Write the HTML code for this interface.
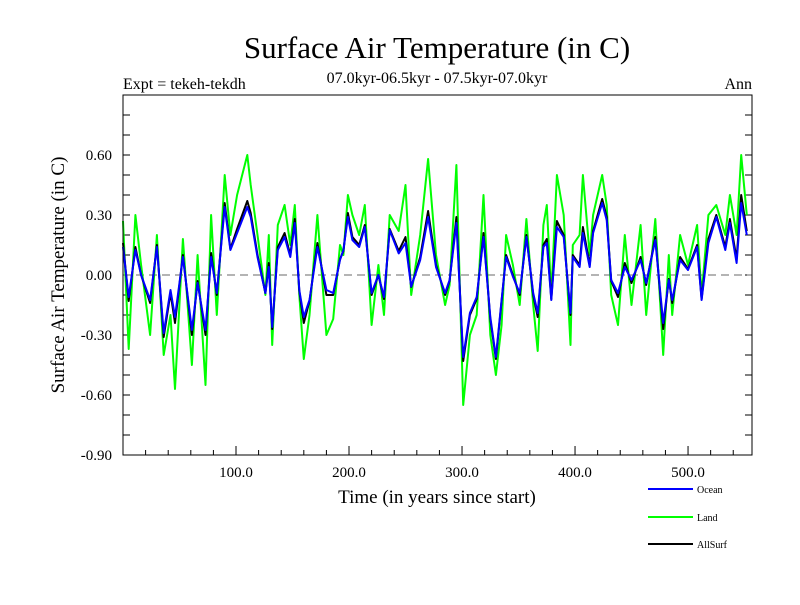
<!DOCTYPE html>
<html><head><meta charset="utf-8"><style>
body{margin:0;background:#fff;width:800px;height:600px;overflow:hidden}
svg text{font-family:"Liberation Serif",serif}
</style></head><body>
<svg width="800" height="600" id="c">
<text x="437" y="58" font-size="31" text-anchor="middle">Surface Air Temperature (in C)</text>
<text x="123" y="89" font-size="16">Expt = tekeh-tekdh</text>
<text x="437" y="83" font-size="16" text-anchor="middle">07.0kyr-06.5kyr - 07.5kyr-07.0kyr</text>
<text x="752" y="89" font-size="16" text-anchor="end">Ann</text>
<text transform="translate(64,275) rotate(-90)" font-size="19" text-anchor="middle">Surface Air Temperature (in C)</text>
<text x="437" y="503" font-size="19" text-anchor="middle">Time (in years since start)</text>
<g id="plot"></g>
<rect x="123" y="95" width="629" height="360" fill="none" stroke="#000" stroke-width="1"/>
<g font-family="Liberation Sans,sans-serif" font-size="10">
<line x1="648" y1="489" x2="693" y2="489" stroke="#00f" stroke-width="2"/>
<text x="697" y="493" font-family="Liberation Sans,sans-serif">Ocean</text>
<line x1="648" y1="517" x2="693" y2="517" stroke="#0f0" stroke-width="2"/>
<text x="697" y="521" font-family="Liberation Sans,sans-serif">Land</text>
<line x1="648" y1="544" x2="693" y2="544" stroke="#000" stroke-width="2"/>
<text x="697" y="548" font-family="Liberation Sans,sans-serif">AllSurf</text>
</g>
</svg>
<script>
const years=[0,5,11,16,24,30,36,42,46,53,61,66,73,78,83,90,95,101,110,113,119,126,129,132,137,143,148,152,156,160,165,172,180,186,192,195,199,203,209,214,220,226,231,236,244,250,255,263,270,277,285,289,295,301,307,313,319,325,330,335,339,345,351,357,363,367,372,375,379,384,390,396,398,404,407,413,416,424,428,432,438,444,450,458,463,471,478,483,486,493,500,508,512,518,525,533,537,543,547,552];
const ocean=[0.14,-0.11,0.125,0,-0.125,0.14,-0.29,-0.075,-0.21,0.09,-0.275,-0.04,-0.275,0.09,-0.09,0.34,0.125,0.21,0.34,0.29,0.09,-0.09,0.04,-0.26,0.125,0.19,0.09,0.26,-0.075,-0.21,-0.125,0.14,-0.075,-0.09,0.075,0.125,0.29,0.175,0.14,0.24,-0.09,0,-0.11,0.225,0.108,0.16,-0.058,0.075,0.29,0.04,-0.09,-0.025,0.26,-0.41,-0.19,-0.11,0.19,-0.21,-0.41,-0.125,0.09,-0.008,-0.09,0.19,-0.09,-0.19,0.14,0.16,-0.125,0.24,0.19,-0.19,0.09,0.04,0.21,0.04,0.21,0.36,0.275,-0.025,-0.09,0.04,-0.025,0.075,-0.04,0.175,-0.24,-0.025,-0.125,0.075,0.025,0.14,-0.125,0.16,0.29,0.125,0.26,0.06,0.36,0.2];
const land=[0.27,-0.37,0.3,0.05,-0.3,0.2,-0.4,-0.2,-0.57,0.18,-0.45,0.1,-0.55,0.3,-0.2,0.5,0.2,0.4,0.6,0.45,0.2,-0.1,0.2,-0.35,0.25,0.35,0.15,0.35,-0.1,-0.42,-0.2,0.3,-0.3,-0.22,0.15,0.1,0.4,0.3,0.2,0.35,-0.25,0.05,-0.2,0.3,0.22,0.45,-0.1,0.2,0.58,0.1,-0.15,-0.05,0.55,-0.65,-0.3,-0.2,0.4,-0.3,-0.5,-0.25,0.2,0.05,-0.15,0.28,-0.15,-0.38,0.25,0.35,-0.1,0.5,0.3,-0.35,0.15,0.2,0.5,0.1,0.3,0.5,0.35,-0.1,-0.25,0.2,-0.15,0.25,-0.2,0.28,-0.4,0.1,-0.2,0.2,0.05,0.25,-0.1,0.3,0.35,0.2,0.4,0.2,0.6,0.3];
const allsurf=[0.16,-0.13,0.14,0,-0.14,0.15,-0.31,-0.09,-0.24,0.1,-0.3,-0.03,-0.3,0.11,-0.1,0.36,0.13,0.23,0.37,0.31,0.1,-0.09,0.06,-0.27,0.14,0.21,0.1,0.28,-0.08,-0.24,-0.13,0.16,-0.1,-0.1,0.08,0.12,0.31,0.19,0.15,0.25,-0.1,0,-0.12,0.23,0.12,0.19,-0.06,0.09,0.32,0.05,-0.1,-0.03,0.29,-0.43,-0.2,-0.12,0.21,-0.22,-0.42,-0.13,0.1,0,-0.1,0.2,-0.1,-0.21,0.15,0.18,-0.12,0.27,0.2,-0.2,0.1,0.05,0.24,0.05,0.22,0.38,0.29,-0.03,-0.11,0.06,-0.04,0.09,-0.05,0.19,-0.27,-0.02,-0.14,0.09,0.03,0.15,-0.12,0.18,0.3,0.14,0.28,0.08,0.4,0.22];
const yTicks=[0.6,0.3,0,-0.3,-0.6,-0.9];
const yTickLabels=["0.60","0.30","0.00","-0.30","-0.60","-0.90"];
const xTicks=[100,200,300,400,500];
const xTickLabels=["100.0","200.0","300.0","400.0","500.0"];
const NS="http://www.w3.org/2000/svg";
const X0=123,X1=752,Y0=95,Y1=455,XMAX=556.6,YMIN=-0.9,YMAX=0.9;
function sx(v){return X0+(v/XMAX)*(X1-X0);}
function sy(v){return Y1-(v-YMIN)/(YMAX-YMIN)*(Y1-Y0);}
const g=document.getElementById('plot');
function mk(t,a){const e=document.createElementNS(NS,t);for(const k in a)e.setAttribute(k,a[k]);g.appendChild(e);return e;}
for(let v=-0.9;v<=0.9001;v+=0.1){const y=sy(v);const L=7;
 let t=mk('line',{x1:X0,y1:y,x2:X0+L,y2:y,stroke:'#000'});
 
 
 t=mk('line',{x1:X1,y1:y,x2:X1-L,y2:y,stroke:'#000'});
 
 }
for(let v=20;v<XMAX;v+=20){const x=sx(v);const L=(v%100===0)?9:5;
 let t=mk('line',{x1:x,y1:Y1,x2:x,y2:Y1-L,stroke:'#000'});
 
 }
yTicks.forEach((v,i)=>{const t=mk('text',{x:112,y:sy(v)+5,'font-size':15,'text-anchor':'end'});t.textContent=yTickLabels[i];
 
 });
xTicks.forEach((v,i)=>{const t=mk('text',{x:sx(v),y:477,'font-size':15,'text-anchor':'middle'});t.textContent=xTickLabels[i];
 
 });
const z=mk('line',{x1:X0,y1:sy(0),x2:X1,y2:sy(0),stroke:'#888','stroke-dasharray':'8,5','stroke-width':1.2});


function series(vals,col,name){const d=years.map((yr,i)=>(i?'L':'M')+sx(yr).toFixed(1)+' '+sy(vals[i]).toFixed(1)).join(' ');
 const p=mk('path',{d:d,fill:'none',stroke:col,'stroke-width':2,'stroke-linejoin':'round'});
 
 }
series(land,'#00ff00','land-line');
series(allsurf,'#000000','allsurf-line');
series(ocean,'#0000ff','ocean-line');
</script>
</body></html>
